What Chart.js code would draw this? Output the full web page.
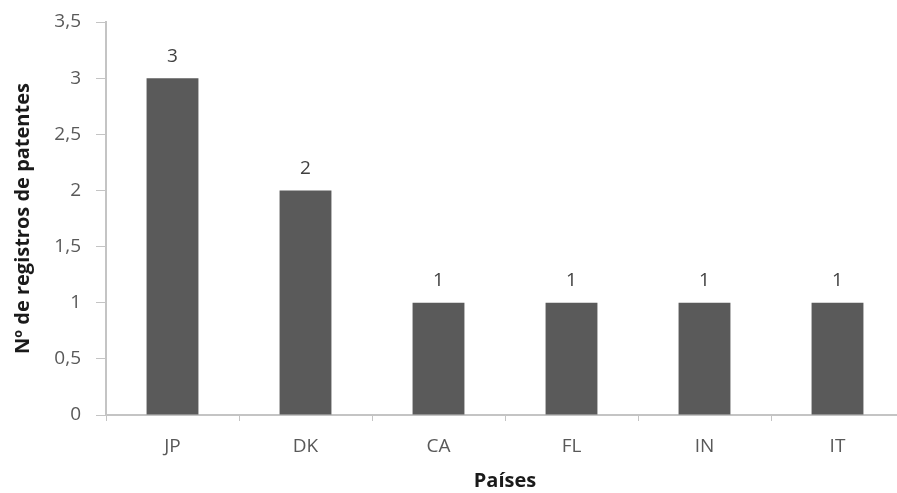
<!DOCTYPE html>
<html>
<head>
<meta charset="utf-8">
<script src="https://cdn.jsdelivr.net/npm/chart.js@4.4.1/dist/chart.umd.min.js"></script>
<style>
  html, body { margin: 0; padding: 0; background: #fff; overflow: hidden; }
  #wrap { width: 906px; height: 493px; position: relative; }
</style>
</head>
<body>
<div id="wrap"><canvas id="c"></canvas></div>
<script>
// Patent registrations per country
const paises = ['JP', 'DK', 'CA', 'FL', 'IN', 'IT'];
const registros = [3, 2, 1, 1, 1, 1];
const yTicks = [0, 0.5, 1, 1.5, 2, 2.5, 3, 3.5];

const yTitle = 'Nº de registros de patentes';
const xTitle = 'Países';

const FONT = "'Open Sans', 'Noto Sans', sans-serif";
const AXIS_COLOR = '#c4c4c4';

// value labels above each bar
const valueLabels = {
  id: 'valueLabels',
  afterDatasetsDraw(chart) {
    const ctx = chart.ctx;
    const meta = chart.getDatasetMeta(0);
    ctx.save();
    ctx.font = '19px ' + FONT;
    ctx.fillStyle = '#404040';
    ctx.textAlign = 'center';
    ctx.textBaseline = 'middle';
    meta.data.forEach((bar, i) => {
      ctx.fillText(String(registros[i]), bar.x, bar.y - 22);
    });
    ctx.restore();
  }
};

new Chart(document.getElementById('c'), {
  type: 'bar',
  data: {
    labels: paises,
    datasets: [{
      data: registros,
      backgroundColor: '#5a5a5a',
      borderWidth: 0,
      categoryPercentage: 1,
      barPercentage: 0.39
    }]
  },
  options: {
    responsive: true,
    maintainAspectRatio: false,
    animation: false,
    layout: { padding: { top: 22, right: 2, bottom: 0, left: 0 } },
    plugins: {
      legend: { display: false },
      tooltip: { enabled: false }
    },
    scales: {
      x: {
        grid: {
          offset: true,
          drawOnChartArea: false,
          drawTicks: true,
          tickLength: 6,
          color: AXIS_COLOR
        },
        border: { display: true, color: AXIS_COLOR, width: 2 },
        ticks: {
          color: '#595959',
          font: { family: FONT, size: 19 },
          padding: 14
        },
        title: {
          display: true,
          text: xTitle,
          color: '#1a1a1a',
          font: { family: FONT, size: 20, weight: 'bold' },
          padding: { top: 0, bottom: 0 }
        },
        afterFit(scale) {
          scale.height = 78;
          scale.paddingLeft = 0;
          scale.paddingRight = 0;
        }
      },
      y: {
        min: 0,
        max: 3.5,
        afterBuildTicks(scale) {
          scale.ticks = yTicks.map(v => ({ value: v }));
        },
        grid: {
          drawOnChartArea: false,
          drawTicks: true,
          tickLength: 10,
          color: AXIS_COLOR
        },
        border: { display: true, color: AXIS_COLOR, width: 2 },
        ticks: {
          color: '#595959',
          font: { family: FONT, size: 19 },
          padding: 15,
          callback: v => String(v).replace('.', ',')
        },
        title: {
          display: true,
          text: yTitle,
          color: '#1a1a1a',
          font: { family: FONT, size: 20, weight: 'bold' },
          padding: { top: 11, bottom: 0 }
        },
        afterFit(scale) {
          scale.width = 106;
          scale.paddingTop = 0;
          scale.paddingBottom = 0;
        }
      }
    }
  },
  plugins: [valueLabels]
});
</script>
</body>
</html>
